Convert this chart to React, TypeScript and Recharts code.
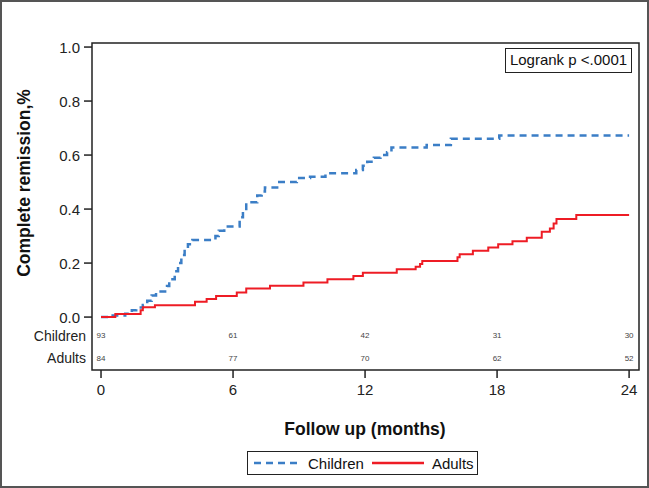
import {
  ComposedChart,
  Line,
  Scatter,
  XAxis,
  YAxis,
  ReferenceArea,
} from 'recharts'

// cumulative complete remission
const childrenTimes = [
  0, 0.4, 1.1, 1.4, 1.6, 1.9, 2.1, 2.3, 2.5, 3.0, 3.1, 3.35, 3.5, 3.65, 3.8,
  3.95, 4.15, 5.2, 5.35, 5.6, 6.3, 6.45, 6.6, 7.1, 7.3, 7.45, 8.1, 8.9, 9.5,
  10.2, 11.6, 11.9, 12.1, 12.4, 12.7, 13.0, 13.2, 14.8, 15.9, 18.1, 24,
]
const childrenValues = [
  0, 0.006, 0.012, 0.025, 0.035, 0.045, 0.06, 0.08, 0.095, 0.115, 0.14, 0.17,
  0.2, 0.23, 0.255, 0.27, 0.285, 0.3, 0.32, 0.335, 0.37, 0.4, 0.425, 0.45,
  0.465, 0.48, 0.5, 0.515, 0.52, 0.533, 0.545, 0.56, 0.575, 0.59, 0.6, 0.61,
  0.628, 0.637, 0.66, 0.672, 0.672,
]
const adultsTimes = [
  0, 0.65, 1.8, 1.9, 2.45, 4.27, 4.8, 5.23, 6.17, 6.6, 7.68, 9.2, 10.29, 11.47,
  11.9, 13.44, 14.3, 14.5, 14.6, 16.2, 16.3, 16.9, 17.6, 18.05, 18.7, 19.35,
  20.03, 20.4, 20.57, 20.7, 21.6, 24,
]
const adultsValues = [
  0, 0.011, 0.025, 0.036, 0.044, 0.057, 0.067, 0.078, 0.091, 0.106, 0.116,
  0.128, 0.14, 0.152, 0.164, 0.177, 0.186, 0.197, 0.208, 0.222, 0.233, 0.246,
  0.258, 0.27, 0.281, 0.294, 0.316, 0.328, 0.347, 0.363, 0.378, 0.378,
]

// numbers at risk
const riskMonths = [0, 6, 12, 18, 24]
const childrenAtRisk = [93, 61, 42, 31, 30]
const adultsAtRisk = [84, 77, 70, 62, 52]

const xTicks = [0, 6, 12, 18, 24]
const yTicks = [0, 0.2, 0.4, 0.6, 0.8, 1.0]

const BLUE = '#3b7ec6'
const RED = '#ee1c25'
const INK = '#222'
const FONT = '"Liberation Sans", Arial, sans-serif'

// rows of the at-risk table sit below zero on the y scale
const CHILD_ROW = -0.07
const ADULT_ROW = -0.152
const X_DOMAIN: [number, number] = [-0.41, 24.45]
const Y_DOMAIN: [number, number] = [-0.196, 1.015]

const childrenData = childrenTimes.map((t, i) => ({ t, v: childrenValues[i] }))
const adultsData = adultsTimes.map((t, i) => ({ t, v: adultsValues[i] }))
const riskData = [
  ...riskMonths.map((t, i) => ({ t, v: CHILD_ROW, n: childrenAtRisk[i] })),
  ...riskMonths.map((t, i) => ({ t, v: ADULT_ROW, n: adultsAtRisk[i] })),
]

interface TickProps {
  x?: number
  y?: number
  payload?: { value: number }
}

function YTick({ x = 0, y = 0, payload }: TickProps) {
  const v = payload?.value ?? 0
  if (v < 0) {
    return (
      <text
        x={x - 6}
        y={y}
        textAnchor="end"
        dominantBaseline="central"
        fontSize={14}
        fontFamily={FONT}
        fill={INK}
      >
        {v === CHILD_ROW ? 'Children' : 'Adults'}
      </text>
    )
  }
  return (
    <g>
      <line x1={x - 8} x2={x} y1={y} y2={y} stroke={INK} strokeWidth={1.5} />
      <text
        x={x - 12}
        y={y}
        textAnchor="end"
        dominantBaseline="central"
        fontSize={15}
        fontFamily={FONT}
        fill={INK}
      >
        {v.toFixed(1)}
      </text>
    </g>
  )
}

interface RiskShapeProps {
  cx?: number
  cy?: number
  payload?: { n: number }
}

function RiskNumber({ cx = 0, cy = 0, payload }: RiskShapeProps) {
  return (
    <text
      x={cx}
      y={cy}
      textAnchor="middle"
      dominantBaseline="central"
      fontSize={8}
      fontFamily={FONT}
      fill="#444"
    >
      {payload?.n}
    </text>
  )
}

export default function App() {
  return (
    <div
      style={{
        position: 'fixed',
        left: 0,
        top: 0,
        width: 649,
        height: 488,
        boxSizing: 'border-box',
        border: '2px solid #555',
        background: '#fff',
        fontFamily: FONT,
      }}
    >
      <div style={{ position: 'absolute', left: -2, top: -2 }}>
        <ComposedChart
          width={649}
          height={488}
          margin={{ top: 43, right: 10, bottom: 68, left: 0 }}
        >
          <ReferenceArea
            x1={X_DOMAIN[0]}
            x2={X_DOMAIN[1]}
            y1={Y_DOMAIN[0]}
            y2={Y_DOMAIN[1]}
            fill="none"
            stroke={INK}
            strokeWidth={1.5}
            fillOpacity={0}
            strokeOpacity={1}
          />
          <XAxis
            type="number"
            dataKey="t"
            domain={X_DOMAIN}
            ticks={xTicks}
            allowDataOverflow
            axisLine={false}
            tickLine={{ stroke: INK, strokeWidth: 1.5 }}
            tickSize={8}
            tickMargin={6}
            tick={{ fontSize: 15, fill: INK, fontFamily: FONT }}
            height={50}
          />
          <YAxis
            type="number"
            dataKey="v"
            domain={Y_DOMAIN}
            ticks={[ADULT_ROW, CHILD_ROW, ...yTicks]}
            allowDataOverflow
            axisLine={false}
            tickLine={false}
            tickSize={0}
            tickMargin={0}
            tick={<YTick />}
            width={92}
            interval={0}
          />
          <Line
            data={childrenData}
            dataKey="v"
            type="stepAfter"
            stroke={BLUE}
            strokeWidth={2.5}
            strokeDasharray="7 5"
            dot={false}
            isAnimationActive={false}
          />
          <Line
            data={adultsData}
            dataKey="v"
            type="stepAfter"
            stroke={RED}
            strokeWidth={2}
            dot={false}
            isAnimationActive={false}
          />
          <Scatter
            data={riskData}
            dataKey="v"
            shape={<RiskNumber />}
            isAnimationActive={false}
          />
        </ComposedChart>
      </div>

      {/* axis titles */}
      <div
        style={{
          position: 'absolute',
          left: 24 - 2,
          top: 183 - 2,
          transform: 'translate(-50%, -50%) rotate(-90deg)',
          whiteSpace: 'nowrap',
          fontWeight: 700,
          fontSize: 17.5,
          color: '#111',
        }}
      >
        Complete remission,%
      </div>
      <div
        style={{
          position: 'absolute',
          left: 365 - 2,
          top: 429 - 2,
          transform: 'translate(-50%, -50%)',
          whiteSpace: 'nowrap',
          fontWeight: 700,
          fontSize: 17.5,
          color: '#111',
        }}
      >
        Follow up (months)
      </div>

      {/* logrank box */}
      <div
        style={{
          position: 'absolute',
          left: 505 - 2,
          top: 48 - 2,
          width: 127,
          height: 25,
          boxSizing: 'border-box',
          border: '1.5px solid #222',
          fontSize: 15,
          lineHeight: '22px',
          textAlign: 'center',
          color: '#111',
        }}
      >
        Logrank p &lt;.0001
      </div>

      {/* legend */}
      <div
        style={{
          position: 'absolute',
          left: 247 - 2,
          top: 451 - 2,
          width: 231,
          height: 24,
          boxSizing: 'border-box',
          border: '1.5px solid #222',
          display: 'flex',
          alignItems: 'center',
          fontSize: 15,
          color: '#111',
        }}
      >
        <svg width={54} height={10} style={{ marginLeft: 4 }}>
          <line x1={2} x2={50} y1={5} y2={5} stroke={BLUE} strokeWidth={2.5} strokeDasharray="7 5" />
        </svg>
        <span style={{ marginLeft: 2 }}>Children</span>
        <svg width={60} height={10} style={{ marginLeft: 6 }}>
          <line x1={2} x2={54} y1={5} y2={5} stroke={RED} strokeWidth={2.5} />
        </svg>
        <span style={{ marginLeft: 2 }}>Adults</span>
      </div>
    </div>
  )
}
